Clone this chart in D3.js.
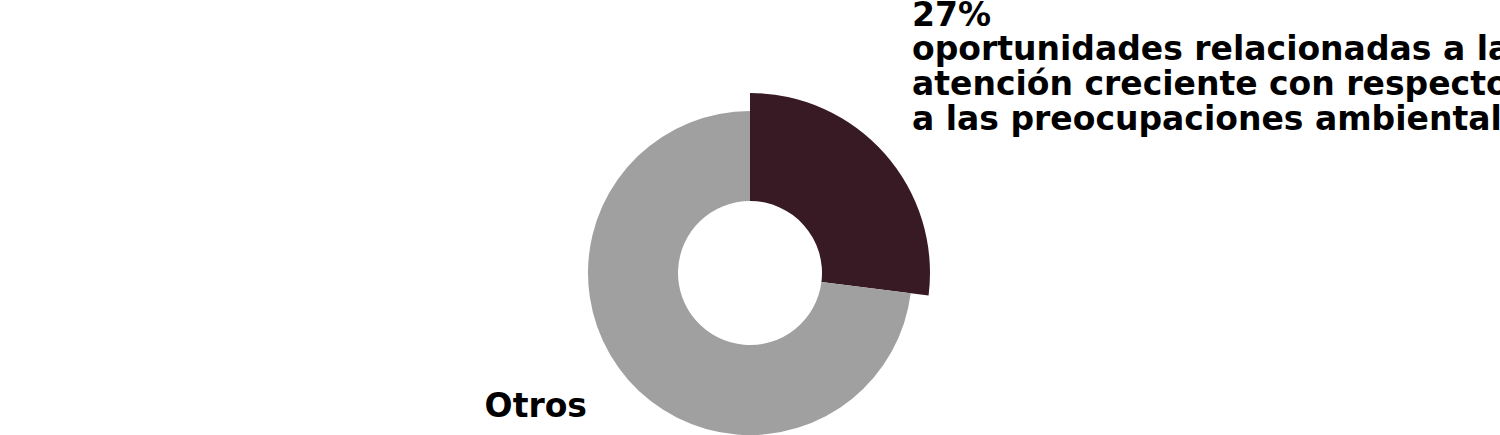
<!DOCTYPE html>
<html><head><meta charset="utf-8">
<script src="https://cdn.jsdelivr.net/npm/d3@7"></script>
<style>body{margin:0;background:#fff;overflow:hidden}svg{display:block}</style>
</head><body>
<svg id="c" width="1500" height="435"></svg>
<script>
const categories = ["oportunidades relacionadas a la atención creciente con respecto a las preocupaciones ambientales", "Otros"];
const values = [27, 73];
const labelLines = ["27%", "oportunidades relacionadas a la", "atención creciente con respecto", "a las preocupaciones ambientales"];
const otherLabel = "Otros";
const colors = ["#381a24", "#a0a0a0"];

const svg = d3.select("#c");
const cx = 750, cy = 273;
const g = svg.append("g").attr("transform", `translate(${cx},${cy})`);
const pie = d3.pie().sort(null).value(d => d)(values);
const arcs = [d3.arc().innerRadius(72).outerRadius(180), d3.arc().innerRadius(72).outerRadius(162)];
g.selectAll("path").data(pie).join("path")
  .attr("d", (d, i) => arcs[i](d))
  .attr("fill", (d, i) => colors[i]);

const font = "'DejaVu Sans', sans-serif";
const t = svg.append("text").attr("x", 912).attr("y", 25.5)
  .attr("font-family", font).attr("font-weight", "bold").attr("font-size", 33).attr("fill", "#000");
labelLines.forEach((l, i) => t.append("tspan").attr("x", 912).attr("y", 25.5 + i * 34.8).text(l));
svg.append("text").attr("x", 587).attr("y", 417).attr("text-anchor", "end")
  .attr("font-family", font).attr("font-weight", "bold").attr("font-size", 33).attr("fill", "#000").text(otherLabel);
</script>
</body></html>
